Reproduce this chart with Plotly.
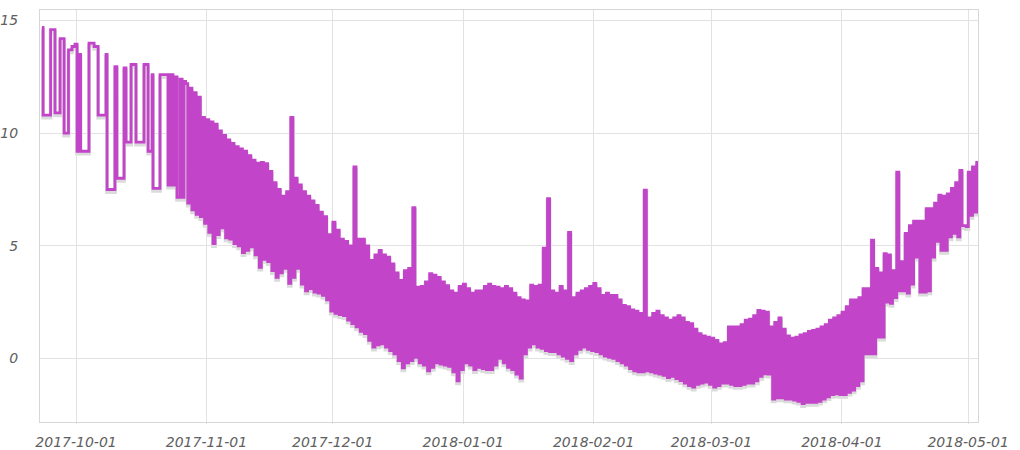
import pandas as pd
import plotly.graph_objects as go

# ---- early step-like period (time, value) ----
early_times = [
    "2017-09-22 22:00", "2017-09-23 04:00", "2017-09-24 23:00", "2017-09-26 00:00",
    "2017-09-27 05:00", "2017-09-28 04:00", "2017-09-29 05:00", "2017-09-30 01:00",
    "2017-09-30 18:00", "2017-10-01 06:00", "2017-10-01 22:00", "2017-10-02 02:00",
    "2017-10-04 02:00", "2017-10-05 07:00", "2017-10-06 06:00", "2017-10-08 03:00",
    "2017-10-08 09:00", "2017-10-10 06:00", "2017-10-10 17:00", "2017-10-12 10:00",
    "2017-10-12 21:00", "2017-10-14 02:00", "2017-10-15 06:00", "2017-10-17 04:00",
    "2017-10-18 03:00", "2017-10-19 02:00", "2017-10-19 07:00", "2017-10-20 23:00",
    "2017-10-22 21:00", "2017-10-23 10:00", "2017-10-24 01:00", "2017-10-24 12:00",
    "2017-10-25 00:00", "2017-10-25 17:00", "2017-10-26 05:00", "2017-10-26 16:00",
]
early_vals = [
    14.7, 10.8, 14.6, 10.9,
    14.2, 10.0, 13.7, 13.85,
    13.95, 9.2, 13.5, 9.2,
    14.0, 13.85, 10.8, 13.5,
    7.5, 12.95, 8.0, 12.9,
    9.6, 13.05, 9.6, 13.05,
    9.2, 12.6, 7.55, 12.6,
    7.7, 12.6, 7.7, 12.5,
    7.15, 12.4, 7.15, 12.3,
]

# ---- daily highs / lows ----
hi_oct = [12.2, 12.0, 11.8, 11.6, 10.7]
lo_oct = [6.9, 6.6, 6.4, 6.3, 6.0]

hi_nov = [10.6, 10.5, 10.4, 10.1, 9.9, 9.7, 9.55, 9.4, 9.3, 9.2, 9.0, 8.8, 8.67, 8.7, 8.65,
          8.3, 7.8, 7.5, 7.2, 7.4, 10.7, 8.0, 7.7, 7.4, 7.2, 7.0, 6.8, 6.5, 6.3, 5.5]
lo_nov = [5.6, 5.1, 5.5, 5.8, 5.35, 5.3, 5.1, 5.0, 4.7, 4.8, 4.95, 4.6, 4.05, 4.4, 4.3,
          3.9, 3.6, 3.8, 4.0, 3.33, 3.6, 4.0, 3.3, 3.0, 3.1, 2.95, 2.9, 2.8, 2.6, 2.1]

hi_dec = [6.05, 5.7, 5.3, 5.2, 5.0, 8.5, 5.3, 5.3, 5.0, 4.35, 4.6, 4.8, 4.6, 4.5, 4.2,
          3.8, 3.47, 3.9, 4.0, 6.7, 3.17, 3.2, 3.4, 3.77, 3.7, 3.6, 3.4, 3.23, 3.0, 2.9, 3.2]
lo_dec = [2.0, 1.95, 1.9, 1.7, 1.55, 1.4, 1.2, 1.1, 0.8, 0.5, 0.6, 0.65, 0.5, 0.35, 0.2,
          -0.1, -0.42, -0.2, -0.1, 0.05, -0.2, -0.3, -0.55, -0.4, -0.2, -0.25, -0.3, -0.35, -0.6, -1.0, -0.5]

hi_jan = [3.3, 3.1, 2.9, 3.0, 3.0, 3.2, 3.3, 3.2, 3.17, 3.1, 3.2, 3.1, 2.9, 2.7, 2.6,
          2.55, 3.25, 3.2, 3.25, 4.9, 7.1, 3.0, 2.9, 3.2, 3.0, 5.6, 2.7, 2.9, 3.0, 3.1, 3.2]
lo_jan = [-0.2, -0.3, -0.5, -0.4, -0.45, -0.5, -0.5, -0.3, 0.0, -0.2, -0.4, -0.5, -0.7, -0.87, 0.2,
          0.5, 0.65, 0.5, 0.45, 0.35, 0.3, 0.3, 0.2, 0.1, 0.0, -0.1, 0.2, 0.4, 0.5, 0.4, 0.35]

hi_feb = [3.33, 3.1, 2.8, 2.9, 2.8, 2.8, 2.6, 2.35, 2.3, 2.15, 2.1, 2.0, 7.47, 1.8,
          2.0, 2.1, 1.9, 1.8, 1.7, 1.8, 1.9, 1.8, 1.6, 1.55, 1.3, 1.1, 1.0, 0.95]
lo_feb = [0.3, 0.2, 0.1, 0.05, 0.0, -0.1, -0.2, -0.3, -0.45, -0.55, -0.6, -0.6, -0.55, -0.6,
          -0.65, -0.7, -0.75, -0.85, -0.8, -0.9, -0.98, -1.1, -1.2, -1.27, -1.15, -1.1, -1.05, -1.15]

hi_mar = [0.9, 0.8, 0.65, 0.7, 1.4, 1.4, 1.4, 1.5, 1.7, 1.75, 1.9, 2.13, 2.1, 2.05, 1.4,
          1.6, 1.8, 1.3, 1.0, 0.9, 0.95, 1.05, 1.1, 1.2, 1.25, 1.3, 1.4, 1.5, 1.7, 1.8, 1.9]
lo_mar = [-1.27, -1.2, -1.1, -1.1, -1.15, -1.2, -1.2, -1.15, -1.1, -1.1, -1.0, -0.8, -0.68, -0.7, -1.8,
          -1.75, -1.75, -1.8, -1.8, -1.85, -1.9, -2.0, -1.95, -1.95, -1.95, -1.9, -1.8, -1.7, -1.6, -1.57, -1.6]

hi_apr = [2.05, 2.3, 2.6, 2.6, 2.7, 3.1, 3.1, 5.25, 4.0, 3.8, 4.65, 4.6, 3.9, 8.27, 4.3,
          5.55, 5.9, 6.1, 6.1, 6.1, 6.65, 6.65, 6.9, 7.25, 7.2, 7.3, 7.55, 7.8, 8.35, 5.9]
lo_apr = [-1.6, -1.5, -1.4, -1.2, -1.0, 0.2, 0.2, 0.2, 0.95, 0.95, 2.5, 2.45, 2.7, 3.0, 3.0,
          2.9, 3.3, 4.5, 2.95, 2.95, 3.0, 4.5, 5.2, 4.8, 4.8, 5.4, 5.55, 5.4, 5.9, 5.85]

hi_may = [8.27, 8.5, 8.7]
lo_may = [6.35, 6.5, 6.65]

month_starts = ["2017-10-27", "2017-11-01", "2017-12-01", "2018-01-01",
                "2018-02-01", "2018-03-01", "2018-04-01", "2018-05-01"]
month_his = [hi_oct, hi_nov, hi_dec, hi_jan, hi_feb, hi_mar, hi_apr, hi_may]
month_los = [lo_oct, lo_nov, lo_dec, lo_jan, lo_feb, lo_mar, lo_apr, lo_may]

xs = list(pd.to_datetime(early_times))
ys = list(early_vals)
for start, his, los in zip(month_starts, month_his, month_los):
    days = pd.date_range(start, periods=len(his), freq="D")
    for d, h, l in zip(days, his, los):
        xs += [d + pd.Timedelta(hours=1), d + pd.Timedelta(hours=13)]
        ys += [h, l]

LINE = "#c244c9"
YR = [-2.8, 15.47]
tickfont = dict(family="DejaVu Sans", size=14, color="#606060", style="italic")

fig = go.Figure()
# soft drop shadow (same data on an axis shifted a few pixels down)
fig.add_trace(go.Scatter(x=xs, y=ys, mode="lines", xaxis="x", yaxis="y",
                         line=dict(color="rgba(90,90,90,0.22)", width=3.8, shape="hv"),
                         hoverinfo="skip"))
fig.add_trace(go.Scatter(x=xs, y=ys, mode="lines", xaxis="x", yaxis="y2",
                         line=dict(color=LINE, width=2.8, shape="hv")))

fig.update_layout(
    width=1020, height=450,
    margin=dict(l=40, r=42, t=10, b=26),
    paper_bgcolor="white", plot_bgcolor="rgba(0,0,0,0)",
    showlegend=False,
    xaxis=dict(
        type="date", anchor="y2", automargin=False,
        range=["2017-09-22 10:30", "2018-05-03 08:24"],
        tick0="2017-10-01", dtick="M1", tickformat="%Y-%m-%d",
        showgrid=True, gridcolor="#e2e2e2", gridwidth=1,
        showline=True, linecolor="#d6d6d6", linewidth=1, mirror=True,
        ticks="outside", ticklen=8, tickcolor="rgba(0,0,0,0)",
        tickfont=tickfont, zeroline=False,
    ),
    yaxis=dict(domain=[0, 0.994], range=YR, visible=False, showgrid=False, zeroline=False,
               anchor="x", automargin=False),
    yaxis2=dict(
        domain=[0.006, 1], range=YR, anchor="x", automargin=False,
        tickvals=[0, 5, 10, 15],
        showgrid=True, gridcolor="#e2e2e2", gridwidth=1,
        showline=True, linecolor="#d6d6d6", linewidth=1, mirror=True,
        ticks="outside", ticklen=18, tickcolor="rgba(0,0,0,0)",
        tickfont=tickfont, zeroline=False,
    ),
)

# remove the default page margin so the figure sits at the window's top-left corner
fig.write_html("out.html",
               config={"displayModeBar": False},
               post_script="document.body.style.margin='0';document.body.style.overflow='hidden';")
